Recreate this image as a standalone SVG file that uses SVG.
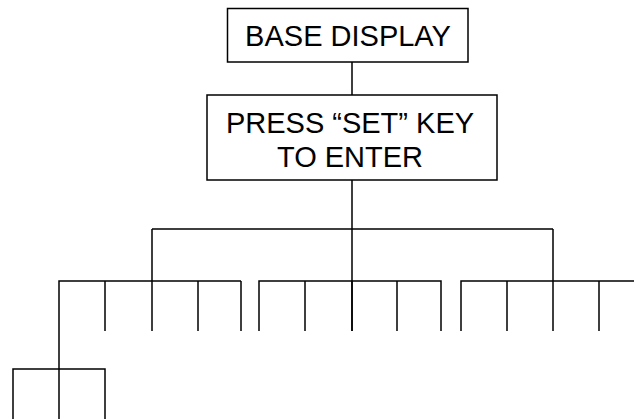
<svg xmlns="http://www.w3.org/2000/svg" width="634" height="419" viewBox="0 0 634 419">
<style>
.box{fill:#fff;stroke:#000;stroke-width:1.5}
.t{font-family:"Liberation Sans",Arial,sans-serif;font-size:29px;fill:#000;text-anchor:middle}
.c{stroke:#000;stroke-width:1.5;fill:none}
</style>
<rect width="634" height="419" fill="#fff"/>
<g id="connectors">
<path class="c" d="M352 62V95M352 180V229M152 229H553M352 229V331M152 229V281M553 229V281"/>
<path class="c" d="M59 369V281H241M105 281V331M152 281V331M198 281V331M241 281V331"/>
<path class="c" d="M259 331V281H441V331M305 281V331M352 281V331M397 281V331"/>
<path class="c" d="M461 331V281H634M507 281V331M553 281V331M599 281V331"/>
<path class="c" d="M13 419V369H105V419M59 369V419"/>
</g>
<g id="base">
<rect class="box" x="227.5" y="8.5" width="240.5" height="53.5"/>
<text class="t" x="348" y="45.5">BASE DISPLAY</text>
</g>
<g id="press">
<rect class="box" x="207" y="95" width="290" height="85"/>
<text class="t" x="350" y="133">PRESS “SET” KEY</text>
<text class="t" x="350" y="167">TO ENTER</text>
</g>
</svg>
